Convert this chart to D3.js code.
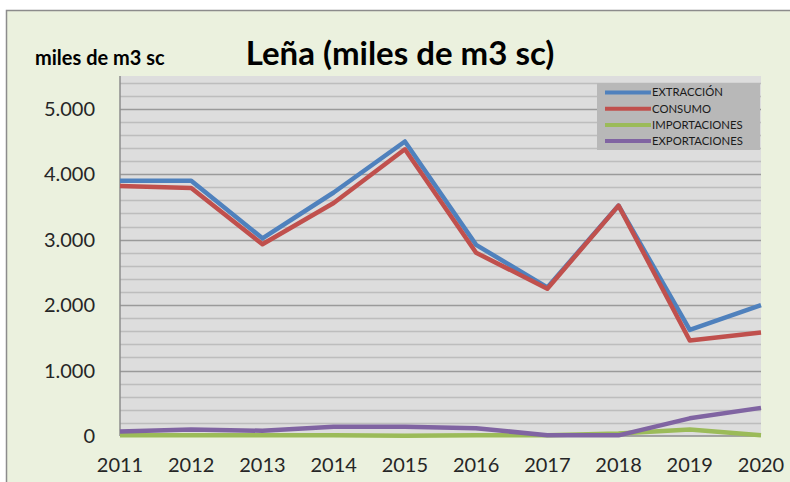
<!DOCTYPE html>
<html>
<head>
<meta charset="utf-8">
<script src="https://cdn.jsdelivr.net/npm/d3@7"></script>
<style>
  html, body { margin: 0; padding: 0; background: #fff; }
  svg { display: block; }
</style>
</head>
<body>
<svg id="chart" width="790" height="482"></svg>
<script>
// Leña: extracción, consumo, importaciones y exportaciones (miles de m3 sc)
const years = [2011, 2012, 2013, 2014, 2015, 2016, 2017, 2018, 2019, 2020];
const extraccion    = [3900, 3900, 3020, 3720, 4500, 2920, 2270, 3520, 1620, 2000];
const consumo       = [3820, 3790, 2930, 3560, 4380, 2800, 2250, 3520, 1460, 1580];
const importaciones = [10, 10, 10, 10, 5, 10, 10, 40, 100, 10];
const exportaciones = [70, 100, 80, 140, 140, 120, 10, 10, 270, 430];
const seriesNames  = ["EXTRACCIÓN", "CONSUMO", "IMPORTACIONES", "EXPORTACIONES"];
const seriesColors = ["#4F81BD", "#C0504D", "#9BBB59", "#8064A2"];
const yTicks = [0, 1000, 2000, 3000, 4000, 5000];

const series = [extraccion, consumo, importaciones, exportaciones].map((vals, i) => ({
  name: seriesNames[i], color: seriesColors[i], values: vals
}));

const svg = d3.select("#chart");
const font = "Lato, 'Open Sans', sans-serif";

// chart area background and frame
svg.append("rect").attr("x", 0).attr("y", 0).attr("width", 790).attr("height", 482).attr("fill", "#fff");
svg.append("rect").attr("x", 6.5).attr("y", 10.5).attr("width", 800).attr("height", 500)
  .attr("fill", "#EBF1DE").attr("stroke", "#8C8C8C").attr("stroke-width", 1.5);

const plot = { left: 120, right: 761, top: 76, bottom: 436 };

const x = d3.scalePoint().domain(years).range([plot.left, plot.right]);
const y = d3.scaleLinear().domain([0, 5500]).range([plot.bottom, plot.top]);

// plot area
svg.append("rect").attr("x", plot.left).attr("y", plot.top)
  .attr("width", plot.right - plot.left).attr("height", plot.bottom - plot.top)
  .attr("fill", "#DDDDDD");

// minor gridlines every 200, major every 1000
const minor = d3.range(200, 5500, 200).filter(v => v % 1000 !== 0);
svg.append("g").selectAll("line").data(minor).join("line")
  .attr("x1", plot.left).attr("x2", plot.right)
  .attr("y1", d => Math.round(y(d)) + 0.5).attr("y2", d => Math.round(y(d)) + 0.5)
  .attr("stroke", "#BDBDBD").attr("stroke-width", 1.5);
svg.append("g").selectAll("line").data(yTicks.filter(v => v > 0)).join("line")
  .attr("x1", plot.left).attr("x2", plot.right)
  .attr("y1", d => Math.round(y(d)) + 0.5).attr("y2", d => Math.round(y(d)) + 0.5)
  .attr("stroke", "#9A9A9A").attr("stroke-width", 1.5);

// axis lines
svg.append("line").attr("x1", plot.left).attr("x2", plot.left)
  .attr("y1", plot.top).attr("y2", plot.bottom).attr("stroke", "#8C8C8C").attr("stroke-width", 1.5);
svg.append("line").attr("x1", plot.left).attr("x2", plot.right)
  .attr("y1", plot.bottom).attr("y2", plot.bottom).attr("stroke", "#8C8C8C").attr("stroke-width", 1.5);

// y tick labels
const fmt = v => d3.format(",")(v).replace(/,/g, ".");
svg.append("g").selectAll("text").data(yTicks).join("text")
  .attr("x", 95).attr("y", d => y(d)).attr("dy", "0.35em")
  .attr("text-anchor", "end").attr("font-family", font).attr("font-size", 20)
  .attr("fill", "#262626").text(fmt);

// x tick labels
svg.append("g").selectAll("text").data(years).join("text")
  .attr("x", d => x(d)).attr("y", 472)
  .attr("text-anchor", "middle").attr("font-family", font).attr("font-size", 20)
  .attr("fill", "#262626").text(d => d);

// lines
const line = d3.line().x((d, i) => x(years[i])).y(d => y(d));
svg.append("g").selectAll("path").data(series).join("path")
  .attr("d", d => line(d.values))
  .attr("fill", "none").attr("stroke", d => d.color).attr("stroke-width", 4.5)
  .attr("stroke-linejoin", "round").attr("stroke-linecap", "butt");

// titles
svg.append("text").attr("x", 400).attr("y", 65).attr("text-anchor", "middle")
  .attr("font-family", font).attr("font-weight", "bold").attr("font-size", 33)
  .attr("fill", "#000").text("Leña (miles de m3 sc)");
svg.append("text").attr("x", 35).attr("y", 65)
  .attr("font-family", font).attr("font-weight", "bold").attr("font-size", 20)
  .attr("fill", "#000").text("miles de m3 sc");

// legend
const lg = svg.append("g").attr("transform", "translate(597,83)");
lg.append("rect").attr("width", 163).attr("height", 67).attr("fill", "#B8B8B8");
const items = lg.selectAll("g").data(series).join("g")
  .attr("transform", (d, i) => `translate(0,${9.5 + i * 16.2})`);
items.append("line").attr("x1", 8).attr("x2", 54).attr("y1", 0).attr("y2", 0)
  .attr("stroke", d => d.color).attr("stroke-width", 4);
items.append("text").attr("x", 55).attr("y", 0).attr("dy", "0.35em")
  .attr("font-family", font).attr("font-size", 11.3).attr("fill", "#1a1a1a")
  .text(d => d.name);
</script>
</body>
</html>
